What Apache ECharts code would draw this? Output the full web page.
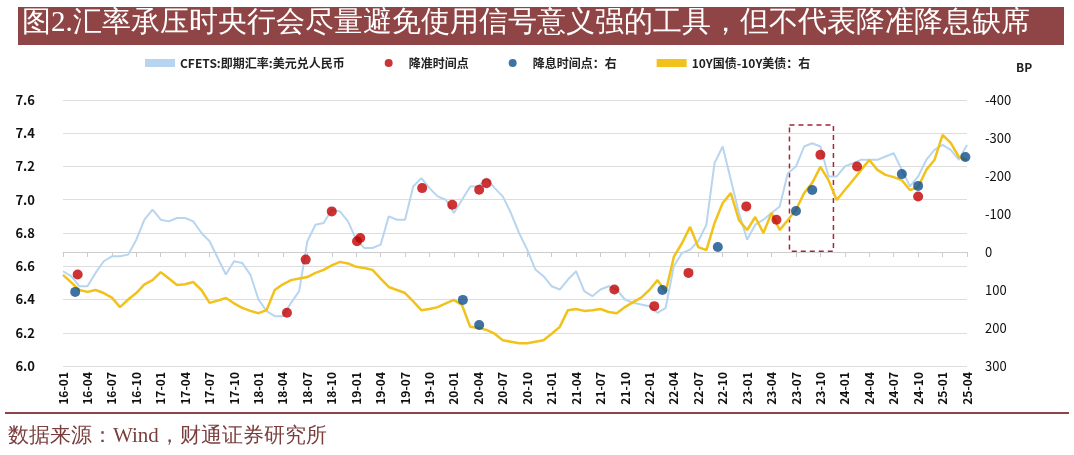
<!DOCTYPE html>
<html>
<head>
<meta charset="utf-8">
<script src="https://cdn.jsdelivr.net/npm/echarts@6/dist/echarts.min.js"></script>
<style>
  *{margin:0;padding:0;}
  body{width:1074px;height:455px;background:#fff;overflow:hidden;}
  #chart{width:1074px;height:455px;}
</style>
</head>
<body>
<div id="chart"></div>
<script>
// month index 0 = 2016-01
const cny = [
  6.57,6.54,6.48,6.48,6.56,6.63,6.66,6.66,6.67,6.76,6.88,6.94,
  6.88,6.87,6.89,6.89,6.87,6.80,6.75,6.65,6.55,6.63,6.62,6.55,
  6.40,6.33,6.30,6.30,6.38,6.45,6.75,6.85,6.86,6.94,6.93,6.87,
  6.76,6.71,6.71,6.73,6.90,6.88,6.88,7.08,7.13,7.07,7.02,7.00,
  6.92,7.00,7.08,7.08,7.13,7.07,7.02,6.92,6.80,6.70,6.58,6.54,
  6.48,6.46,6.52,6.57,6.45,6.42,6.46,6.48,6.46,6.40,6.38,6.37,
  6.36,6.32,6.35,6.60,6.68,6.70,6.75,6.85,7.22,7.32,7.12,6.92,
  6.76,6.85,6.88,6.92,6.96,7.16,7.20,7.32,7.34,7.32,7.14,7.14,
  7.20,7.22,7.24,7.24,7.24,7.26,7.28,7.18,7.08,7.14,7.24,7.30,
  7.33,7.30,7.24,7.33
];
const spread = [
  60,80,100,105,100,108,120,145,125,108,85,74,
  53,70,87,85,79,100,134,128,121,135,147,155,
  161,153,100,85,74,70,66,55,47,35,26,30,
  39,42,47,70,92,100,108,130,153,150,145,135,
  126,140,197,200,205,215,232,236,240,240,236,232,
  215,197,153,150,155,153,150,158,161,145,132,120,
  100,74,105,13,-23,-66,-13,-5,-76,-129,-155,-84,
  -58,-92,-50,-103,-58,-84,-111,-155,-182,-224,-189,-137,
  -163,-189,-216,-242,-216,-203,-197,-189,-163,-171,-216,-242,
  -308,-287,-250,-242
];
const rrrCuts = [[1.8,6.55],[27.5,6.32],[29.8,6.64],[33,6.93],[36.1,6.75],[36.5,6.77],
  [44.1,7.07],[47.8,6.97],[51.1,7.06],[52,7.10],[67.7,6.46],[72.6,6.36],[76.8,6.56],
  [83.9,6.96],[87.6,6.88],[93,7.27],[97.5,7.20],[105,7.02]];
const rateCuts = [[1.5,105],[49.1,126],[51.1,192],[73.6,100],[80.4,-13],[90,-108],
  [92,-163],[103,-205],[105,-174],[110.8,-250]];
const boxX = [89.2, 94.6];
const boxY = [6.69, 7.45];

const label = i => {
  const y = 16 + Math.floor(i / 12), m = i % 12 + 1;
  return y + '-' + (m < 10 ? '0' + m : m);
};

const chart = echarts.init(document.getElementById('chart'));
const font = '"Noto Sans CJK SC", sans-serif';
chart.setOption({
  animation: false,
  graphic: [
    {type:'rect', shape:{x:18,y:7,width:1046,height:38}, style:{fill:'#8f4545'}},
    {type:'text', left:22, top:9, style:{text:'图2.汇率承压时央行会尽量避免使用信号意义强的工具，但不代表降准降息缺席',
      fill:'#fff', font:'29px serif'}},
    {type:'rect', shape:{x:5,y:412,width:1064,height:2}, style:{fill:'#8f4545'}},
    {type:'text', left:8, top:426, style:{text:'数据来源：Wind，财通证券研究所', fill:'#7a3d3d', font:'21px serif'}},
    {type:'text', left:1016, top:61, style:{text:'BP', fill:'#222', font:'bold 12px ' + font}}
  ],
  legend: {
    top: 52, left: 140, itemGap: 40, itemWidth: 30, itemHeight: 8,
    textStyle: {fontFamily: font, fontSize: 12, fontWeight: 'bold', color: '#222'},
    data: [
      {name:'CFETS:即期汇率:美元兑人民币', icon:'rect', itemStyle:{color:'#b8d5f0'}},
      {name:'降准时间点', icon:'circle'},
      {name:'降息时间点：右', icon:'circle'},
      {name:'10Y国债-10Y美债：右', icon:'rect'}
    ]
  },
  grid: {left: 63, right: 107, top: 100, bottom: 89},
  xAxis: {
    type: 'value', min: 0, max: 111, interval: 3,
    axisLine: {lineStyle: {color: '#ccc'}},
    axisTick: {show: true, lineStyle: {color: '#ccc'}},
    splitLine: {show: false},
    axisLabel: {rotate: 90, formatter: v => label(v), color: '#111',
      fontFamily: font, fontSize: 12, fontWeight: 'bold', margin: 6}
  },
  yAxis: [
    {type:'value', min:6.0, max:7.6, interval:0.2,
      axisLabel:{formatter: v => v.toFixed(1), color:'#111', fontFamily:font, fontSize:13, fontWeight:'bold', margin:28},
      splitLine:{lineStyle:{color:'#ddd'}}, axisLine:{show:false}, axisTick:{show:false}},
    {type:'value', min:-400, max:300, interval:100, inverse:true,
      axisLabel:{color:'#111', fontFamily:font, fontSize:13, margin:18},
      splitLine:{show:false}, axisLine:{show:false}, axisTick:{show:false}}
  ],
  series: [
    {name:'CFETS:即期汇率:美元兑人民币', type:'line', yAxisIndex:0, showSymbol:false, z:2,
      lineStyle:{color:'#b8d5f0', width:2}, itemStyle:{color:'#b8d5f0'},
      data: cny.map((v,i)=>[i,v]),
      markArea: {silent:true,
        itemStyle:{color:'rgba(0,0,0,0)', borderColor:'#a0263a', borderWidth:1.5, borderType:[5,4], borderRadius:8},
        data:[[{coord:[boxX[0], boxY[1]]},{coord:[boxX[1], boxY[0]]}]]}},
    {name:'10Y国债-10Y美债：右', type:'line', yAxisIndex:1, showSymbol:false, z:3,
      lineStyle:{color:'#f2c21a', width:2.5}, itemStyle:{color:'#f2c21a'},
      data: spread.map((v,i)=>[i,v])},
    {name:'降准时间点', type:'scatter', yAxisIndex:0, symbolSize:10, z:5,
      itemStyle:{color:'#c00000'}, data: rrrCuts},
    {name:'降息时间点：右', type:'scatter', yAxisIndex:1, symbolSize:10, z:5,
      itemStyle:{color:'#0d4f8b'}, data: rateCuts}
  ]
});
</script>
</body>
</html>
